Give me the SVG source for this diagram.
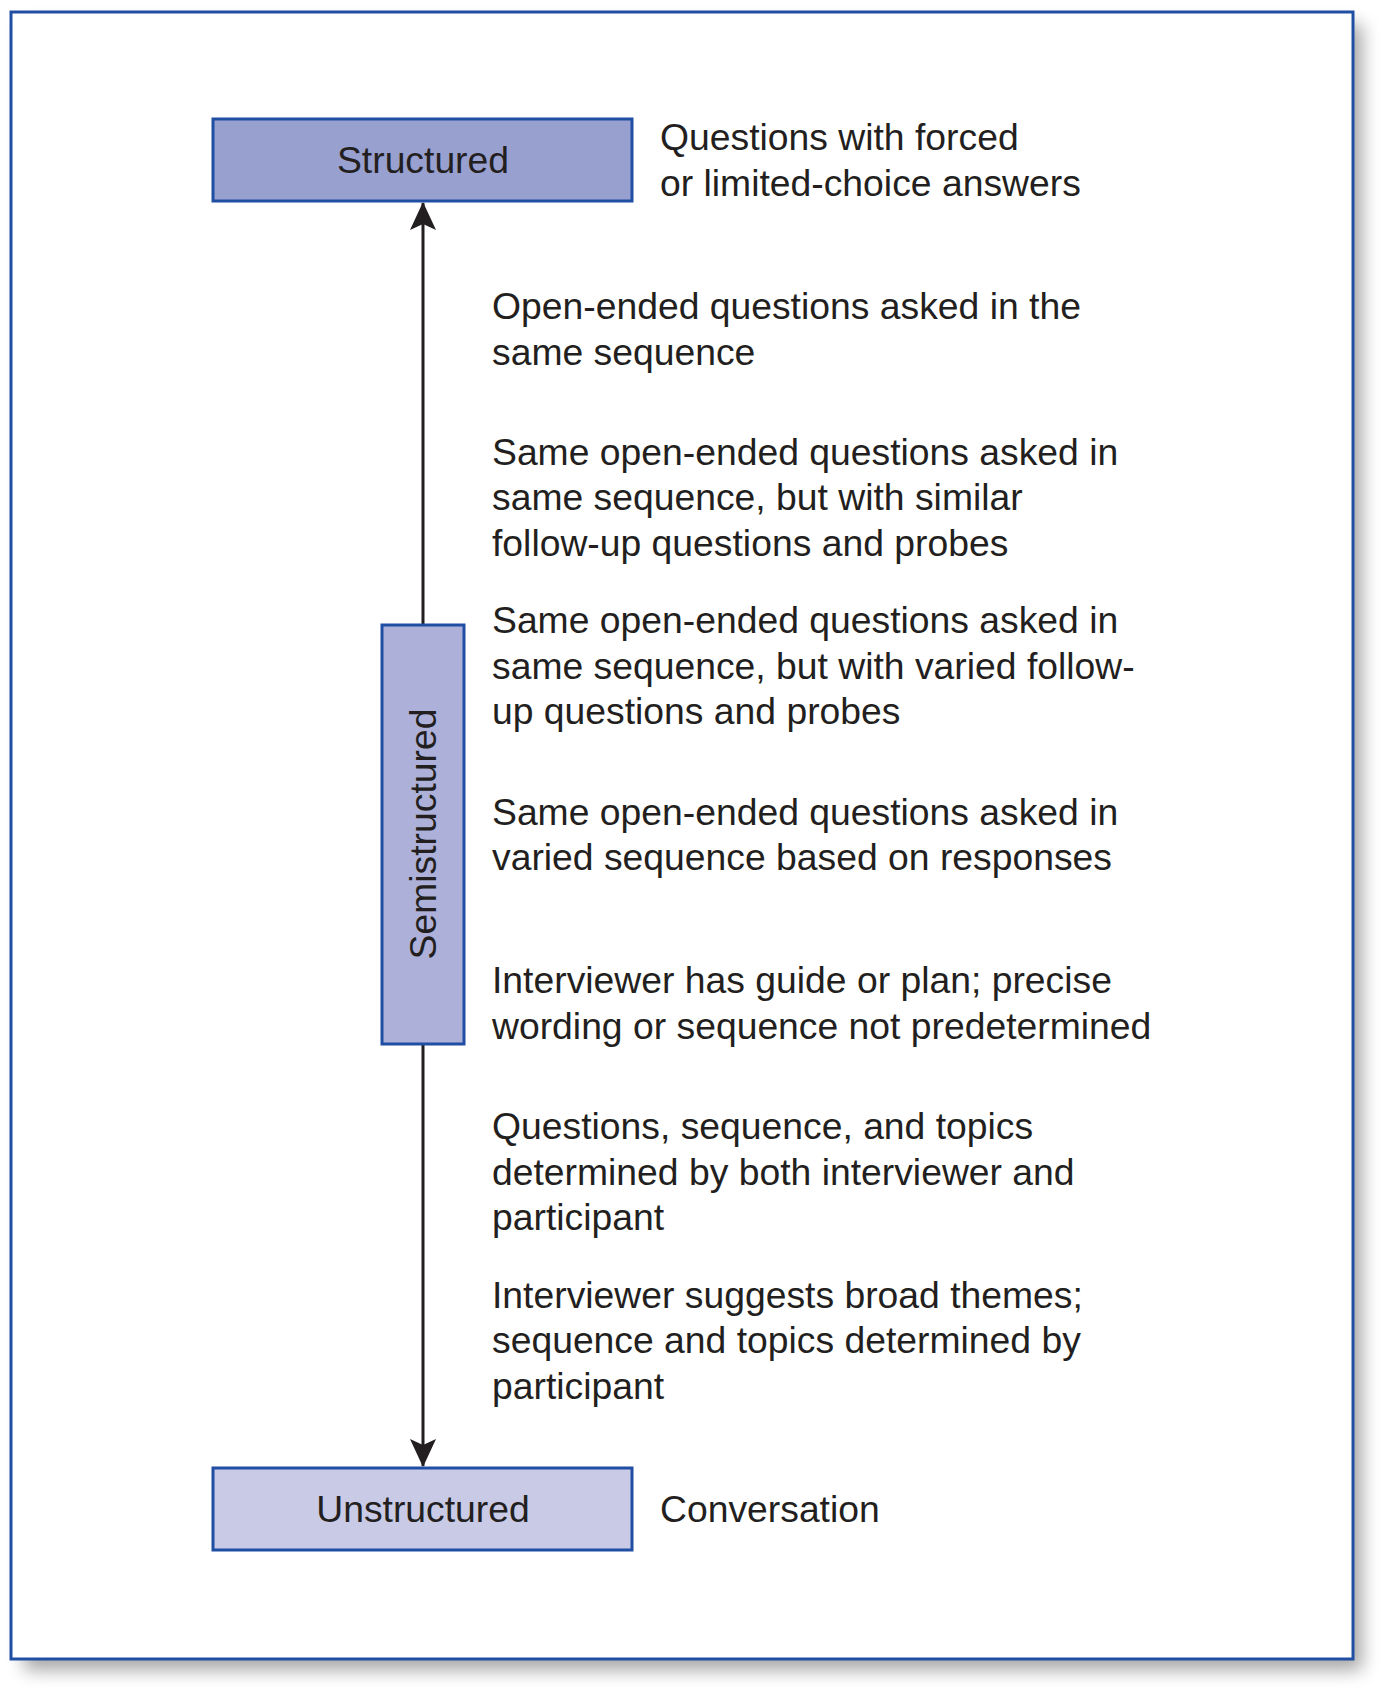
<svg xmlns="http://www.w3.org/2000/svg" width="1390" height="1696" viewBox="0 0 1390 1696">
<style>
.t{font-family:"Liberation Sans",Arial,sans-serif;font-size:37.3px;fill:#231f20}
.box{stroke:#1f4ea3;stroke-width:3}
.c{text-anchor:middle}
.ln{stroke:#231f20;stroke-width:3;fill:none}
</style>
<defs>
<filter id="sh" x="-5%" y="-5%" width="115%" height="115%">
<feGaussianBlur stdDeviation="9"/>
</filter>
<marker id="ah" viewBox="0 0 28 26" refX="27" refY="13" markerWidth="28" markerHeight="26" markerUnits="userSpaceOnUse" orient="auto">
<path d="M0,0 L28,13 L0,26 L6,13 Z" fill="#231f20"/>
</marker>
</defs>
<rect width="1390" height="1696" fill="#ffffff"/>
<rect x="24" y="24" width="1338" height="1646" fill="#000" opacity="0.35" filter="url(#sh)"/>
<rect id="frame" x="11" y="12" width="1342" height="1647" fill="#ffffff" stroke="#1f4ea3" stroke-width="3"/>
<g id="connectors">
<line class="ln" x1="423" y1="625" x2="423" y2="203" marker-end="url(#ah)"/>
<line class="ln" x1="423" y1="1044" x2="423" y2="1466" marker-end="url(#ah)"/>
</g>
<g id="structured">
<rect class="box" x="213" y="119" width="419" height="82" fill="#98a0d0"/>
<text class="t c" x="423" y="173">Structured</text>
</g>
<g id="semistructured">
<rect class="box" x="382" y="625" width="82" height="419" fill="#adb1d9"/>
<text class="t c" transform="translate(436,834) rotate(-90)" x="0" y="0">Semistructured</text>
</g>
<g id="unstructured">
<rect class="box" x="213" y="1468" width="419" height="82" fill="#c8cae6"/>
<text class="t c" x="423" y="1522">Unstructured</text>
</g>
<g id="desc-structured">
<text class="t" x="660" y="149.5">Questions with forced</text>
<text class="t" x="660" y="195.5">or limited-choice answers</text>
</g>
<g id="level1">
<text class="t" x="492" y="318.5">Open-ended questions asked in the</text>
<text class="t" x="492" y="364.5">same sequence</text>
</g>
<g id="level2">
<text class="t" x="492" y="464.5">Same open-ended questions asked in</text>
<text class="t" x="492" y="509.5">same sequence, but with similar</text>
<text class="t" x="492" y="555.5">follow-up questions and probes</text>
</g>
<g id="level3">
<text class="t" x="492" y="632.5">Same open-ended questions asked in</text>
<text class="t" x="492" y="678.5">same sequence, but with varied follow-</text>
<text class="t" x="492" y="723.5">up questions and probes</text>
</g>
<g id="level4">
<text class="t" x="492" y="824.5">Same open-ended questions asked in</text>
<text class="t" x="492" y="869.5">varied sequence based on responses</text>
</g>
<g id="level5">
<text class="t" x="492" y="992.5">Interviewer has guide or plan; precise</text>
<text class="t" x="492" y="1038.5">wording or sequence not predetermined</text>
</g>
<g id="level6">
<text class="t" x="492" y="1138.5">Questions, sequence, and topics</text>
<text class="t" x="492" y="1184.5">determined by both interviewer and</text>
<text class="t" x="492" y="1229.5">participant</text>
</g>
<g id="level7">
<text class="t" x="492" y="1307.5">Interviewer suggests broad themes;</text>
<text class="t" x="492" y="1352.5">sequence and topics determined by</text>
<text class="t" x="492" y="1398.5">participant</text>
</g>
<g id="desc-unstructured">
<text class="t" x="660" y="1522">Conversation</text>
</g>
</svg>
